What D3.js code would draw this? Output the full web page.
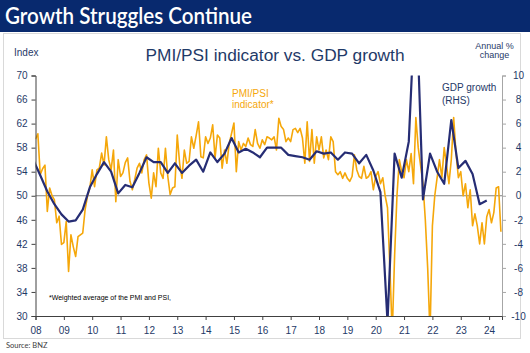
<!DOCTYPE html>
<html><head><meta charset="utf-8">
<script src="https://cdn.jsdelivr.net/npm/d3@7"></script>
<style>
body{margin:0;background:#fff}
svg{display:block}
text{font-family:"Liberation Sans",Arial,sans-serif}
</style>
</head><body>
<svg id="c" width="530" height="353"></svg>
<script>
// ---------- DATA ----------
const yearLabels = ["08","09","10","11","12","13","14","15","16","17","18","19","20","21","22","23","24"];
const leftTicks = [30,34,38,42,46,50,54,58,62,66,70];
const rightTicks = [-10,-8,-6,-4,-2,0,2,4,6,8,10];

// PMI/PSI weighted indicator, monthly, first value = Jan 2008
const pmiStartYear = 2008;
const pmi = [
 59.4,60.3,53.5,54.5,55.1,47.4,51.3,50.0,49.3,45.5,46.6,41.9,
 42.2,45.7,37.4,43.5,41.5,39.9,43.2,43.5,43.8,47.7,49.9,51.3,
 54.3,51.5,54.3,54.6,57.1,55.1,59.8,56.0,54.3,57.6,49.0,56.0,
 53.2,53.8,55.5,56.3,52.4,51.0,52.7,54.6,55.4,53.8,56.0,56.8,
 52.1,49.6,53.8,51.5,57.9,53.8,52.9,57.9,53.2,50.2,51.3,51.5,
 60.1,55.4,52.9,57.6,55.4,55.7,59.8,57.9,60.0,62.3,56.5,56.3,
 59.8,58.7,59.6,61.8,56.3,60.1,59.6,54.6,57.6,55.4,58.7,60.4,
 62.1,54.0,59.0,57.6,58.7,58.2,59.6,58.5,58.2,61.0,58.7,57.9,
 59.3,58.5,59.8,59.6,59.3,59.8,57.6,62.9,61.5,61.0,59.0,59.6,
 59.0,61.0,61.2,60.5,61.2,59.6,55.4,62.3,55.7,61.0,55.4,59.8,
 57.6,59.8,56.3,57.6,56.0,59.8,59.0,54.0,53.5,54.0,52.9,53.8,
 52.9,52.4,53.2,56.8,54.3,53.2,52.9,54.9,52.9,53.2,54.0,51.0,
 53.2,54.0,52.0,53.0,50.0,48.0,38.0,27.0,40.0,50.0,56.0,54.0,
 53.0,56.0,54.0,57.0,52.0,63.0,58.0,55.0,52.0,46.0,38.0,27.0,
 45.0,50.0,53.0,56.0,53.0,58.0,55.0,52.0,56.0,63.0,57.0,53.0,
 54.0,50.0,52.0,48.0,51.0,45.0,47.0,45.0,42.0,45.5,42.0,46.5,
 47.7,45.5,47.2,51.3,51.5,44.0
];

// GDP growth, annual % change, quarterly, first value = Dec 2007 quarter
const gdpStart = {year: 2007, month: 12};
const gdp = [
 3.0,
 1.7,0.35,-0.7,-1.55,
 -2.15,-2.05,-1.15,0.7,
 1.8,2.8,2.0,0.2,
 0.9,0.7,1.9,3.2,
 2.8,2.8,1.9,2.7,
 1.9,2.5,3.0,2.0,
 3.6,2.8,3.5,4.8,
 3.6,3.9,3.6,3.2,
 4.0,4.0,4.0,3.4,
 3.3,3.2,3.0,3.7,
 3.5,3.6,3.0,3.6,
 3.5,2.7,3.4,2.1,
 0.3,-10.5,3.5,1.5,
 4.5,17.5,-0.3,3.5,
 2.0,1.0,6.3,2.3,
 2.9,1.8,-0.7,-0.4
];

// ---------- CHART ----------
const svg = d3.select("#c");
const navy = "#262d74", orange = "#f5a70a", txtBlue = "#1f3a68";
const L = 35.5, R = 502, T = 75.5, B = 316;

svg.append("rect").attr("width",530).attr("height",353).attr("fill","#fff");
svg.append("rect").attr("x",0).attr("y",0).attr("width",530).attr("height",32).attr("fill","#08296e");
svg.append("text").attr("x",5).attr("y",24)
  .style("font-family","Lato, 'Open Sans', sans-serif").style("font-weight","600")
  .attr("font-size",22).attr("fill","#fff")
  .attr("textLength",247).attr("lengthAdjust","spacingAndGlyphs")
  .text("Growth Struggles Continue");
svg.append("rect").attr("x",3.5).attr("y",33.5).attr("width",517).attr("height",305)
  .attr("fill","none").attr("stroke","#d9d9d9");

const x = d3.scaleLinear().domain([2008, 2024.455]).range([L, R]);
const yL = d3.scaleLinear().domain([30,70]).range([B, T]);
const yR = d3.scaleLinear().domain([-10,10]).range([B, T]);

// zero line
svg.append("line").attr("x1",L).attr("x2",R).attr("y1",yR(0)).attr("y2",yR(0))
  .attr("stroke","#808080").attr("stroke-width",1);

svg.append("defs").append("clipPath").attr("id","clip")
  .append("rect").attr("x",L).attr("y",T).attr("width",R-L).attr("height",B-T);

const pmiData = pmi.map((v,i)=>({t: pmiStartYear + i/12, v}));
const gdpData = gdp.map((v,i)=>({t: gdpStart.year + (gdpStart.month-1 + 3*i)/12, v}));

const g = svg.append("g").attr("clip-path","url(#clip)");
g.append("path").datum(pmiData)
  .attr("fill","none").attr("stroke",orange).attr("stroke-width",1.6).attr("stroke-linejoin","round")
  .attr("d", d3.line().x(d=>x(d.t)).y(d=>yL(d.v)));
g.append("path").datum(gdpData)
  .attr("fill","none").attr("stroke",navy).attr("stroke-width",2.2).attr("stroke-linejoin","round")
  .attr("d", d3.line().x(d=>x(d.t)).y(d=>yR(d.v)));

// axes
const axL = svg.append("g").attr("transform",`translate(${L},0)`)
  .call(d3.axisLeft(yL).tickValues(leftTicks).tickSize(4).tickPadding(4).tickFormat(d3.format("d")));
const axR = svg.append("g").attr("transform",`translate(${R},0)`)
  .call(d3.axisRight(yR).tickValues(rightTicks).tickSize(4).tickPadding(5).tickFormat(d=>d));
const yearTicks = yearLabels.map((s,i)=>2008+i);
const axB = svg.append("g").attr("transform",`translate(0,${B})`)
  .call(d3.axisBottom(x).tickValues(yearTicks).tickSize(4).tickPadding(5).tickFormat((d,i)=>yearLabels[i]));

[axL,axR,axB].forEach(a=>{
  a.selectAll("text").attr("font-size",10).attr("fill",txtBlue).style("font-family","'Liberation Sans',Arial,sans-serif");
  a.select(".domain").attr("stroke","#404040");
  a.selectAll(".tick line").attr("stroke","#404040");
});
axR.select(".domain").attr("stroke","#a6a6a6");
axR.selectAll(".tick line").attr("stroke","#a6a6a6");
axR.selectAll("text").attr("text-anchor","middle").attr("x",16.5);
axB.selectAll("text").attr("dy","0.9em");

// texts
svg.append("text").attr("x",14).attr("y",56).attr("font-size",10).attr("fill",txtBlue).text("Index");
svg.append("text").attr("x",145.5).attr("y",60.5).attr("font-size",17.3).attr("fill",txtBlue)
  .text("PMI/PSI indicator vs. GDP growth");
svg.append("text").attr("x",494.5).attr("y",49).attr("text-anchor","middle").attr("font-size",9).attr("fill",txtBlue).text("Annual %");
svg.append("text").attr("x",494.5).attr("y",57.5).attr("text-anchor","middle").attr("font-size",9).attr("fill",txtBlue).text("change");

svg.append("text").attr("x",232).attr("y",97).attr("font-size",10).attr("fill",orange).text("PMI/PSI");
svg.append("text").attr("x",232).attr("y",108).attr("font-size",10).attr("fill",orange).text("indicator*");
svg.append("text").attr("x",442).attr("y",91).attr("font-size",10).attr("fill",txtBlue).text("GDP growth");
svg.append("text").attr("x",442).attr("y",104).attr("font-size",10).attr("fill",txtBlue).text("(RHS)");

svg.append("text").attr("x",49).attr("y",300).attr("font-size",7).attr("fill","#000")
  .text("*Weighted average of the PMI and PSI,");
svg.append("text").attr("x",6).attr("y",348).attr("font-size",7.5).attr("fill","#404040")
  .style("font-family","Lato, 'Open Sans', sans-serif")
  .text("Source: BNZ");
</script>
</body></html>
